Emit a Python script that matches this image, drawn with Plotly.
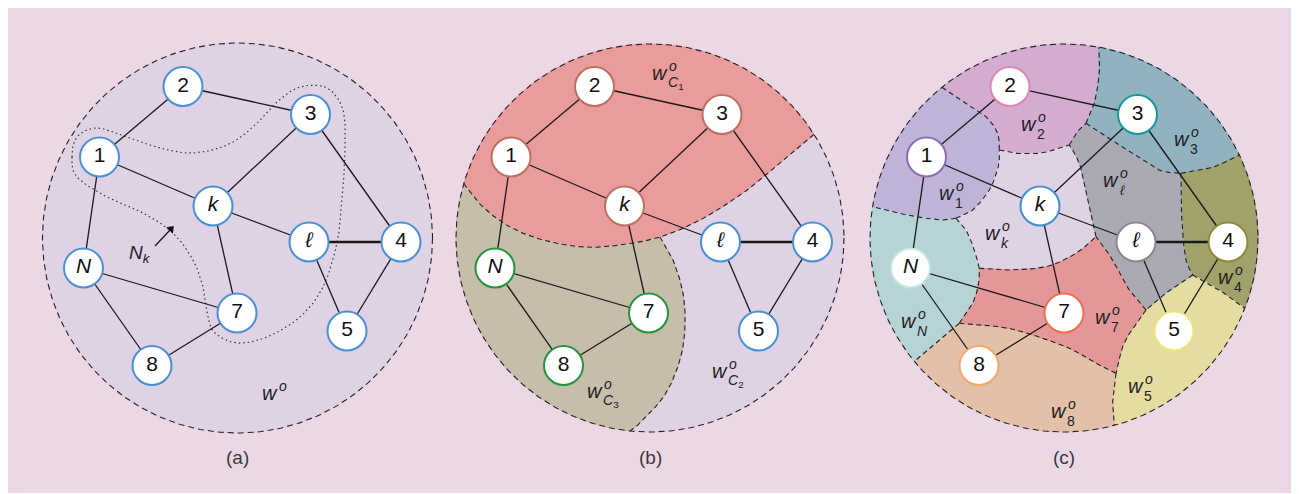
import numpy as np
import plotly.graph_objects as go

W, H = 1299, 494
PAGE_PAD = 8  # default body margin of the written html page
FONT = "Liberation Sans, Arial, Helvetica, sans-serif"

# ---------------- data ----------------
# node positions in the frame of panel (a); other panels are shifted copies
node_ids = ["1", "2", "3", "k", "l", "4", "5", "7", "8", "N"]
node_text = ["1", "2", "3", "<i>k</i>", "<i>ℓ</i>", "4", "5", "7", "8", "<i>N</i>"]
node_x = [99.5, 183, 310.5, 213, 309, 401, 347, 237, 152, 83.5]
node_y = [157, 86.5, 114.5, 206, 242, 242, 331, 313, 365.5, 268]
edges = [("1", "2"), ("2", "3"), ("1", "k"), ("k", "3"), ("3", "4"), ("k", "l"),
         ("l", "5"), ("4", "5"), ("k", "7"), ("1", "N"), ("N", "7"), ("N", "8"), ("8", "7")]
thick_edges = [("l", "4")]

panel_shift = [0.0, 411.5, 827.0]
panel_cx = [237.5, 650.0, 1064.0]
panel_cy = [238.0, 238.0, 238.0]
panel_r = [195.0, 194.0, 194.0]
panel_tag = ["(a)", "(b)", "(c)"]

BG = "#ecd8e4"
LAV = "#dfd2e4"
BLUE = "#4a90d2"
ring_a = [BLUE] * 10
ring_b = ["#bd6f60", "#bd6f60", "#bd6f60", "#bd6f60", BLUE, BLUE, BLUE,
          "#23963c", "#23963c", "#23963c"]
ring_c = ["#8d6db2", "#e283b0", "#17999a", "#3f8fd2", "#888888", "#8d8b34",
          "#ece57a", "#ef6d4f", "#f3a867", "#c4e4de"]

# (a) neighbourhood N_k dotted outline (closed)
nk_x = [72, 77, 97, 127, 160, 193, 227, 253, 277, 300, 327, 343, 345, 342, 337,
        323, 300, 267, 237, 215, 208, 203, 193, 173, 143, 107, 77]
nk_y = [157, 137, 128, 137, 148, 153, 145, 127, 102, 87, 88, 110, 150, 200, 243,
        287, 317, 337, 343, 333, 317, 287, 260, 233, 213, 197, 177]
nk_arrow_x = [155, 171]
nk_arrow_y = [246, 229]

# (b) cluster boundaries
b_c1_x = [463, 483, 510, 543, 583, 620, 660, 700, 743, 780, 813]
b_c1_y = [183, 207, 227, 240, 247, 245, 237, 220, 193, 163, 135]
b_junction = 6
b_c3_x = [660, 673, 683, 685, 680, 666, 646, 630]
b_c3_y = [237, 260, 293, 327, 360, 393, 417, 432]
b_colors = {"C1": "#ea9b9b", "C3": "#c6bdab"}

# (c) per-agent regions
c_colors = {"w1": "#bfb3d7", "w2": "#d3acd0", "w3": "#90b3bf", "wl": "#aaaab4",
            "w4": "#a0a16b", "w5": "#e4dca0", "w7": "#e49798", "w8": "#e3c0a8",
            "wN": "#b6d3d6", "wk": "#e0d2e5"}


def on_circle(p, cx=1064.0, cy=238.0, r=194.0):
    a = np.arctan2(p[1] - cy, p[0] - cx)
    return (cx + r * np.cos(a), cy + r * np.sin(a))


C12 = on_circle((942.7, 88.3)); C23 = on_circle((1099.3, 45)); C34 = on_circle((1239.3, 155))
C45 = on_circle((1244.3, 308.3)); C58 = on_circle((1114.3, 425)); C8N = on_circle((916, 360))
CN1 = on_circle((872.7, 206.7))
J1 = (999.3, 150); J2 = (1069.3, 145); J3 = (1086, 123.3); J4 = (1181, 173.3)
J5 = (1192.7, 275); J6 = (1146, 310); J7 = (1096, 236.7); J8 = (979.3, 268.3)
J9 = (956, 218.3); J10 = (959.3, 323.3); J11 = (1116, 373.3)

c_segments = {
    "12": [C12, (966, 103.3), (986, 116.7), (997.7, 133.3), J1],
    "2k": [J1, (1016, 153.3), (1042.7, 152.7), J2],
    "2l": [J2, (1076, 133.3), J3],
    "23": [J3, (1094.3, 103.3), (1099.3, 73.3), C23],
    "3l": [J3, (1106, 136.7), (1132.7, 153.3), (1159.3, 170), J4],
    "34": [J4, (1209.3, 168.3), (1226, 161.7), C34],
    "4l": [J4, (1181, 200), (1182.7, 233.3), (1186, 260), J5],
    "45": [J5, (1219.3, 290), C45],
    "5l": [J5, (1170, 290), J6],
    "7l": [J6, (1129.3, 290), (1112.7, 260), J7],
    "kl": [J7, (1091, 213.3), (1084, 180), (1078, 160), J2],
    "57": [J6, (1132.7, 328.3), (1122.7, 346.7), J11],
    "58": [J11, (1112.7, 400), C58],
    "78": [J10, (982.7, 325), (1016, 330), (1066, 346.7), (1096, 363.3), J11],
    "N8": [J10, (939.3, 340), C8N],
    "N7": [J10, (972.7, 303.3), (978.7, 283.3), J8],
    "k7": [J8, (1006, 270), (1046, 266.7), (1076, 253.3), J7],
    "Nk": [J9, (966, 230), (974.3, 250), J8],
    "1k": [J9, (972.7, 210), (989.3, 190), (998.3, 166.7), J1],
    "1N": [J9, (942.7, 220), (916, 216.7), (892.7, 211.7), CN1],
}
c_regions = {
    "w1": [("s", "12", 0), ("s", "1k", 1), ("s", "1N", 0), ("a", CN1, C12)],
    "w2": [("s", "12", 0), ("s", "2k", 0), ("s", "2l", 0), ("s", "23", 0), ("a", C23, C12)],
    "w3": [("s", "23", 1), ("s", "3l", 0), ("s", "34", 0), ("a", C34, C23)],
    "w4": [("s", "34", 1), ("s", "4l", 0), ("s", "45", 0), ("a", C45, C34)],
    "w5": [("s", "45", 1), ("s", "5l", 0), ("s", "57", 0), ("s", "58", 0), ("a", C58, C45)],
    "w8": [("s", "58", 1), ("s", "78", 1), ("s", "N8", 0), ("a", C8N, C58)],
    "wN": [("s", "N8", 1), ("s", "N7", 0), ("s", "Nk", 1), ("s", "1N", 0), ("a", CN1, C8N)],
    "wk": [("s", "2k", 0), ("s", "kl", 1), ("s", "k7", 1), ("s", "Nk", 1), ("s", "1k", 0)],
    "wl": [("s", "2l", 0), ("s", "3l", 0), ("s", "4l", 0), ("s", "5l", 0), ("s", "7l", 0), ("s", "kl", 0)],
    "w7": [("s", "k7", 0), ("s", "7l", 1), ("s", "57", 0), ("s", "78", 1), ("s", "N7", 0)],
}

# w^o labels: position of the "w", and its subscript
wl_x = [270, 660, 720, 595, 947, 1029, 1182, 1111, 993, 1226, 1103, 909, 1136, 1059]
wl_y = [393, 73, 371, 391, 193, 124, 139, 180, 233, 277, 317, 321, 386, 411]
wl_sub = ["", "<i>C</i><sub>1</sub>", "<i>C</i><sub>2</sub>", "<i>C</i><sub>3</sub>",
          "1", "2", "3", "<i>ℓ</i>", "<i>k</i>", "4", "7", "<i>N</i>", "5", "8"]


# ---------------- helpers ----------------
def smooth(pts, n=14, closed=False):
    P = np.array(pts, float)
    if closed:
        Q = np.vstack([P[-1], P, P[0], P[1]])
    else:
        if len(P) < 3:
            t = np.linspace(0, 1, n)[:, None]
            return P[0] + (P[1] - P[0]) * t
        Q = np.vstack([2 * P[0] - P[1], P, 2 * P[-1] - P[-2]])
    out = []
    t = np.linspace(0, 1, n, endpoint=False)[:, None]
    for i in range(1, len(Q) - 2):
        p0, p1, p2, p3 = Q[i - 1], Q[i], Q[i + 1], Q[i + 2]
        out.append(0.5 * (2 * p1 + (-p0 + p2) * t + (2 * p0 - 5 * p1 + 4 * p2 - p3) * t ** 2
                          + (-p0 + 3 * p1 - 3 * p2 + p3) * t ** 3))
    out.append(Q[len(Q) - 2][None, :])
    return np.vstack(out)


def arc(p0, p1, cx, cy, r, n=60):
    a0 = np.arctan2(p0[1] - cy, p0[0] - cx)
    a1 = np.arctan2(p1[1] - cy, p1[0] - cx)
    d = (a1 - a0 + np.pi) % (2 * np.pi) - np.pi
    a = a0 + d * np.linspace(0, 1, n)
    return np.column_stack([cx + r * np.cos(a), cy + r * np.sin(a)])


def fill_trace(pts, color):
    pts = np.asarray(pts)
    return go.Scatter(x=pts[:, 0], y=pts[:, 1], mode="lines", fill="toself",
                      fillcolor=color, line=dict(color=color, width=1),
                      hoverinfo="skip", showlegend=False)


def line_trace(pts, width=1.1, dash="5px,3.5px", color="#222222"):
    pts = np.asarray(pts)
    return go.Scatter(x=pts[:, 0], y=pts[:, 1], mode="lines",
                      line=dict(color=color, width=width, dash=dash),
                      hoverinfo="skip", showlegend=False)


fig = go.Figure()
fig.add_shape(type="rect", x0=7, y0=8, x1=1295, y1=493, fillcolor=BG,
              line_width=0, layer="below")

idx = {n: i for i, n in enumerate(node_ids)}
rings = [ring_a, ring_b, ring_c]

for p in range(3):
    cx, cy, r = panel_cx[p], panel_cy[p], panel_r[p]
    ang = np.linspace(0, 2 * np.pi, 361)
    circ = np.column_stack([cx + r * np.cos(ang), cy + r * np.sin(ang)])
    fig.add_trace(fill_trace(circ, LAV))

    if p == 1:
        c1 = smooth(list(zip(b_c1_x, b_c1_y)))
        c1[0] = on_circle(c1[0], cx, cy, r)
        c1[-1] = on_circle(c1[-1], cx, cy, r)
        jn = b_junction * 14
        c3 = smooth(list(zip(b_c3_x, b_c3_y)))
        c3[-1] = on_circle(c3[-1], cx, cy, r)
        poly1 = np.vstack([c1, arc(c1[-1], c1[0], cx, cy, r)])
        poly3 = np.vstack([c1[:jn + 1], c3, arc(c3[-1], c1[0], cx, cy, r)])
        fig.add_trace(fill_trace(poly1, b_colors["C1"]))
        fig.add_trace(fill_trace(poly3, b_colors["C3"]))
        fig.add_trace(line_trace(c1))
        fig.add_trace(line_trace(c3))

    if p == 2:
        segs = {k: smooth(v) for k, v in c_segments.items()}
        for name, parts in c_regions.items():
            chunks = []
            for part in parts:
                if part[0] == "s":
                    s = segs[part[1]]
                    chunks.append(s[::-1] if part[2] else s)
                else:
                    chunks.append(arc(part[1], part[2], cx, cy, r))
            fig.add_trace(fill_trace(np.vstack(chunks), c_colors[name]))
        for s in segs.values():
            fig.add_trace(line_trace(s))

    fig.add_trace(line_trace(circ, width=1.1, dash="6px,4px"))

    if p == 0:
        nk = smooth(list(zip(nk_x, nk_y)), closed=True)
        fig.add_trace(line_trace(nk, width=1.2, dash="1.5px,3px", color="#333333"))
        fig.add_trace(go.Scatter(
            x=nk_arrow_x, y=nk_arrow_y, mode="lines",
            line=dict(color="#111111", width=1.2),
            hoverinfo="skip", showlegend=False))
        fig.add_trace(go.Scatter(
            x=nk_arrow_x[-1:], y=nk_arrow_y[-1:], mode="markers",
            marker=dict(symbol="triangle-up", size=8, angle=44, color="#111111",
                        line=dict(width=0)),
            hoverinfo="skip", showlegend=False))

    sx = panel_shift[p]
    ex, ey = [], []
    for a, b in edges:
        ex += [node_x[idx[a]] + sx, node_x[idx[b]] + sx, None]
        ey += [node_y[idx[a]], node_y[idx[b]], None]
    fig.add_trace(go.Scatter(x=ex, y=ey, mode="lines", line=dict(color="#1a1a1a", width=1.3),
                             hoverinfo="skip", showlegend=False))
    tx, ty = [], []
    for a, b in thick_edges:
        tx += [node_x[idx[a]] + sx, node_x[idx[b]] + sx, None]
        ty += [node_y[idx[a]], node_y[idx[b]], None]
    fig.add_trace(go.Scatter(x=tx, y=ty, mode="lines", line=dict(color="#1a1a1a", width=2.6),
                             hoverinfo="skip", showlegend=False))
    fig.add_trace(go.Scatter(
        x=[v + sx for v in node_x], y=node_y, mode="markers+text", text=node_text,
        textposition="middle center",
        textfont=dict(family=FONT, size=21, color="#111111"),
        marker=dict(size=39, color="white", line=dict(color=rings[p], width=2)),
        hoverinfo="skip", showlegend=False))

    fig.add_annotation(x=cx, y=457, text=panel_tag[p], showarrow=False,
                       font=dict(family=FONT, size=19, color="#3a3a3a"),
                       xanchor="center", yanchor="middle")

# w^o labels
for x, y, sub in zip(wl_x, wl_y, wl_sub):
    fig.add_annotation(x=x, y=y, text="<i>w</i>", showarrow=False,
                       font=dict(family=FONT, size=20, color="#222222"),
                       xanchor="center", yanchor="middle")
    fig.add_annotation(x=x + 13, y=y - 7, text="<i>o</i>", showarrow=False,
                       font=dict(family=FONT, size=14, color="#222222"),
                       xanchor="center", yanchor="middle")
    if sub:
        fig.add_annotation(x=x + 6, y=y + 10, text=sub, showarrow=False,
                           font=dict(family=FONT, size=14, color="#222222"),
                           xanchor="left", yanchor="middle")

# N_k label
fig.add_annotation(x=140, y=254, text="<i>N</i><sub><i>k</i></sub>", showarrow=False,
                   font=dict(family=FONT, size=19, color="#222222"),
                   xanchor="center", yanchor="middle")

# the html page adds an 8px body margin; shift the axes so data units == page pixels
fig.update_layout(
    width=W - PAGE_PAD, height=H - PAGE_PAD, margin=dict(l=0, r=0, t=0, b=0),
    paper_bgcolor="white", plot_bgcolor="white", showlegend=False,
    xaxis=dict(range=[PAGE_PAD, W], visible=False, fixedrange=True),
    yaxis=dict(range=[H, PAGE_PAD], visible=False, fixedrange=True),
)
fig.write_html("out.html")
